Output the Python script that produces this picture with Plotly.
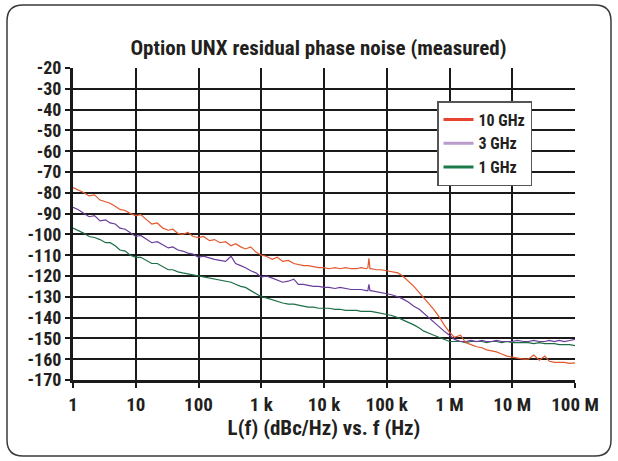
import plotly.graph_objects as go

# ---------------- data ----------------
freq_hz = [
    1, 1.2, 1.5, 1.8, 2.2, 2.7, 3.3, 3.9, 4.7, 5.6, 6.8, 8.2,
    10, 12, 15, 18, 22, 27, 33, 39, 47, 56, 68, 82,
    100, 120, 150, 180, 220, 270, 330, 390, 470, 560, 680, 820,
    1e3, 1.2e3, 1.5e3, 1.8e3, 2.2e3, 2.7e3, 3.3e3, 3.9e3, 4.7e3, 5.6e3, 6.8e3, 8.2e3,
    1e4, 1.2e4, 1.5e4, 1.8e4, 2.2e4, 2.7e4, 3.3e4, 3.9e4, 4.7e4, 5.0e4, 5.2e4, 5.4e4, 5.6e4, 6.8e4, 8.2e4,
    1e5, 1.2e5, 1.5e5, 1.8e5, 2.2e5, 2.7e5, 3.3e5, 3.9e5, 4.7e5, 5.6e5, 6.8e5, 8.2e5,
    1e6, 1.2e6, 1.5e6, 1.8e6, 2.2e6, 2.7e6, 3.3e6, 3.9e6, 4.7e6, 5.6e6, 6.8e6, 8.2e6,
    1e7, 1.2e7, 1.5e7, 1.8e7, 2.2e7, 2.7e7, 3.3e7, 3.9e7, 4.7e7, 5.6e7, 6.8e7, 8.2e7, 1e8,
]

noise_10ghz = [
    -77.5, -78.5, -80, -81.5, -81, -83.5, -84.5, -85, -86.5, -88, -88.5, -90,
    -91, -90.5, -93, -95, -94.5, -97, -98, -97.5, -99.5, -100, -99, -101,
    -101.5, -101, -103, -102.5, -104, -103.5, -105.5, -104.5, -106, -107, -106, -108.5,
    -110, -110.5, -112, -111, -113, -112.5, -114, -114.5, -115, -115, -115.5, -116,
    -116, -116.5, -116, -116.5, -116, -116.5, -116.5, -116, -116.5, -116, -111.5, -116.5, -116.5, -117, -117,
    -117.5, -118, -118.5, -120, -122.5, -125, -128, -130.5, -133.5, -136, -139.5, -143.5,
    -147, -149.5, -148.5, -152, -153, -154, -154.5, -155.5, -156, -156.5, -157.5, -158.5,
    -159, -159.5, -160, -160, -158, -160.5, -158.5, -161, -161.5, -161.5, -161.5, -162, -161.8,
]

noise_3ghz = [
    -87, -88, -90, -91.5, -91, -93.5, -93, -94.5, -95, -97, -97.5, -99,
    -101, -100.5, -102.5, -104, -103.5, -105, -106.5, -106, -107.5, -108, -109, -109.5,
    -111, -110.5, -111.5, -112, -112.5, -113, -110.5, -114, -115, -116, -117.5, -118.5,
    -120.5, -120, -121, -122, -123, -122.5, -121.5, -124, -124, -124.5, -125, -125,
    -125.5, -125.5, -126, -125.5, -126, -126.5, -126.5, -126.5, -127, -127, -124, -127, -127, -127.5, -128,
    -128.5, -129, -130, -131, -132.5, -134.5, -136, -138, -140, -142, -144.5, -146.5,
    -148.5, -150.5, -151.5, -151.5, -151, -151.5, -151, -151.5, -151.5, -151, -151.5, -151.5,
    -151.5, -151, -151.5, -151.5, -151, -151.5, -151.5, -151, -151.5, -151, -151.5, -151, -150.5,
]

noise_1ghz = [
    -97, -98, -99.5, -101, -101.5, -102.5, -104, -104, -105.5, -107.5, -108, -110,
    -111, -111, -112.5, -114, -114, -115.5, -117, -117, -118, -118.5, -119, -119.5,
    -120, -120.5, -121, -121.5, -122, -122.5, -123, -124, -125, -125.5, -127, -128.5,
    -130, -130.5, -131.5, -132, -133, -133.5, -133.5, -134, -134.5, -135, -135, -135.5,
    -135.5, -135.5, -136, -136, -136.5, -136.5, -136.5, -137, -137, -137, -137, -137, -137, -137.5, -138,
    -138.5, -139, -140, -141, -142, -143.5, -145, -146.5, -147.5, -148.5, -149.5, -150.5,
    -151.5, -151.5, -151.5, -152, -151.5, -151.5, -151.5, -152, -151.5, -151.5, -152, -151.5,
    -152, -152, -152, -152, -152.5, -152, -152.5, -152.5, -152.5, -153, -153, -153, -153.5,
]

series_names = ["10 GHz", "3 GHz", "1 GHz"]
x_tick_vals = [1, 10, 100, 1e3, 1e4, 1e5, 1e6, 1e7, 1e8]
x_tick_text = ["1", "10", "100", "1 k", "10 k", "100 k", "1 M", "10 M", "100 M"]
y_tick_vals = [-20, -30, -40, -50, -60, -70, -80, -90, -100, -110, -120, -130, -140, -150, -160, -170]
y_tick_text = [str(v) for v in y_tick_vals]

# ---------------- styling ----------------
FONT = "Roboto Condensed, Open Sans Condensed, sans-serif"
TXT = "#231f20"
trace_colors = ["#e2582c", "#6a3d9a", "#1d6d45"]
legend_colors = ["#e8432e", "#b99ccb", "#1a7a48"]

W, H = 618, 461
ML, MR, MT, MB = 73, 43, 68, 81
PW, PH = W - ML - MR, H - MT - MB


def px(x):
    return (x - ML) / PW


def py(y):
    return (H - MB - y) / PH


fig = go.Figure()

for name, vals, col in [
    ("1 GHz", noise_1ghz, trace_colors[2]),
    ("3 GHz", noise_3ghz, trace_colors[1]),
    ("10 GHz", noise_10ghz, trace_colors[0]),
]:
    fig.add_trace(go.Scatter(x=freq_hz, y=vals, mode="lines", name=name,
                             line=dict(color=col, width=1.2), showlegend=False,
                             hoverinfo="skip"))

for i, (name, col) in enumerate(zip(series_names, legend_colors)):
    fig.add_trace(go.Scatter(x=[None], y=[None], mode="lines", name=f"<b>{name}</b>",
                             line=dict(color=col, width=3), legendgroup=f"g{i}"))

# rounded outer frame
x0, x1, y0, y1, r = 7, 611, 5, 456, 16
path = (
    f"M {px(x0 + r)},{py(y0)} L {px(x1 - r)},{py(y0)} "
    f"Q {px(x1)},{py(y0)} {px(x1)},{py(y0 + r)} "
    f"L {px(x1)},{py(y1 - r)} Q {px(x1)},{py(y1)} {px(x1 - r)},{py(y1)} "
    f"L {px(x0 + r)},{py(y1)} Q {px(x0)},{py(y1)} {px(x0)},{py(y1 - r)} "
    f"L {px(x0)},{py(y0 + r)} Q {px(x0)},{py(y0)} {px(x0 + r)},{py(y0)} Z"
)
fig.add_shape(type="path", path=path, xref="paper", yref="paper",
              line=dict(color="#3a3a3a", width=1.5))

fig.update_layout(
    width=W, height=H,
    margin=dict(l=ML, r=MR, t=MT, b=MB),
    paper_bgcolor="white", plot_bgcolor="white",
    font=dict(family=FONT, size=18, color=TXT),
    title=dict(text="<b>Option UNX residual phase noise (measured)</b>",
               xref="container", x=318.5 / W, xanchor="center",
               yref="container", y=1 - 47.5 / H, yanchor="middle",
               font=dict(size=21, family=FONT, color=TXT)),
    showlegend=True,
    legend=dict(x=px(437), y=py(101), xanchor="left", yanchor="top",
                bgcolor="white", bordercolor="#555555", borderwidth=1.5,
                font=dict(size=16, family=FONT, color=TXT),
                tracegroupgap=4, traceorder="normal"),
)

fig.update_xaxes(
    type="log", range=[0, 8],
    tickvals=x_tick_vals, ticktext=[f"<b>{t}</b>" for t in x_tick_text],
    showgrid=True, gridcolor="#1a1a1a", gridwidth=2,
    showline=True, linecolor="#1a1a1a", linewidth=3,
    ticks="outside", ticklen=5, tickwidth=2, tickcolor="#1a1a1a",
    tickfont=dict(size=19, family=FONT, color=TXT),
    title=dict(text="<b>L(f) (dBc/Hz) vs. f (Hz)</b>", standoff=0,
               font=dict(size=21, family=FONT, color=TXT)),
    zeroline=False,
)
fig.update_yaxes(
    range=[-170, -20],
    tickvals=y_tick_vals, ticktext=[f"<b>{t}</b>" for t in y_tick_text],
    showgrid=True, gridcolor="#1a1a1a", gridwidth=2,
    showline=True, linecolor="#1a1a1a", linewidth=3,
    ticks="outside", ticklen=5, tickwidth=2, tickcolor="#1a1a1a",
    tickfont=dict(size=18, family=FONT, color=TXT),
    zeroline=False,
)

fig.write_html("out.html", config={"displayModeBar": False},
               post_script="document.body.style.margin='0px';")
